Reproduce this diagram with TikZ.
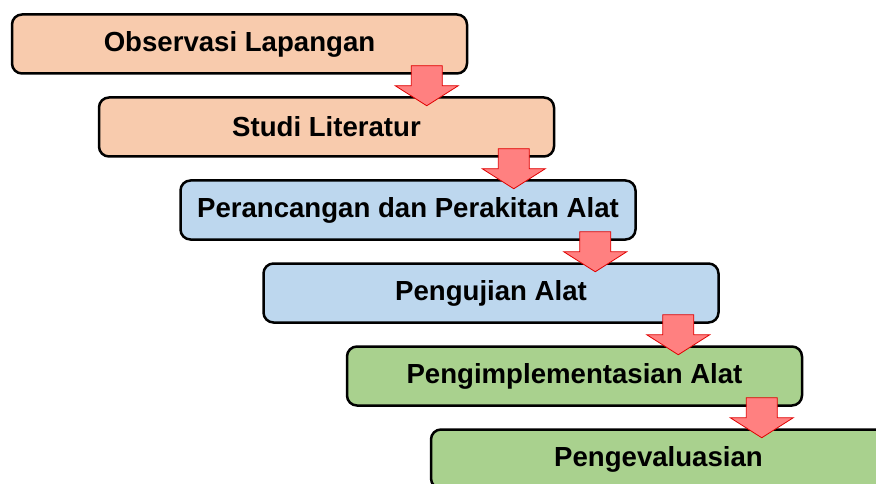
\documentclass[tikz,border=0pt]{standalone}
\usepackage{fontspec}
\setmainfont{Liberation Sans}
\usetikzlibrary{calc}
\definecolor{oranye}{RGB}{248,203,173}
\definecolor{biru}{RGB}{189,215,238}
\definecolor{hijau}{RGB}{169,209,142}
\definecolor{merah}{RGB}{255,128,128}
\definecolor{merahgaris}{RGB}{224,0,0}

\begin{document}
\begin{tikzpicture}[x=1pt, y=-1pt,
	kotak/.style={draw=black, line width=2.5pt, rounded corners=10pt,
		minimum width=455pt, minimum height=59pt, inner sep=0pt,
		font=\fontsize{27.6}{32}\selectfont\bfseries},
	panah/.style={fill=merah, draw=merahgaris, line width=0.8pt, line join=miter}]

	\useasboundingbox (0,0) rectangle (876,484);

	% tahapan
	\foreach \i/\xx/\warna/\teks in {1/239.5/oranye/Observasi Lapangan,
		2/326.5/oranye/Studi Literatur,
		3/408/biru/Perancangan dan Perakitan Alat,
		4/491/biru/Pengujian Alat,
		5/574.5/hijau/Pengimplementasian Alat,
		6/658.5/hijau/Pengevaluasian}
	{
		\node[kotak, fill=\warna] (box\i) at (\xx,{44+83*(\i-1)}) {\teks};
	}

	% panah turun
	\foreach \i in {1,...,5}
	{
		\draw[panah] ($(box\i.south east)+(-57,-9)$) -- ++(31,0) -- ++(0,20) -- ++(16,0)
			-- ++(-31.5,20) -- ++(-31.5,-20) -- ++(16,0) -- cycle;
	}

\end{tikzpicture}
\end{document}
